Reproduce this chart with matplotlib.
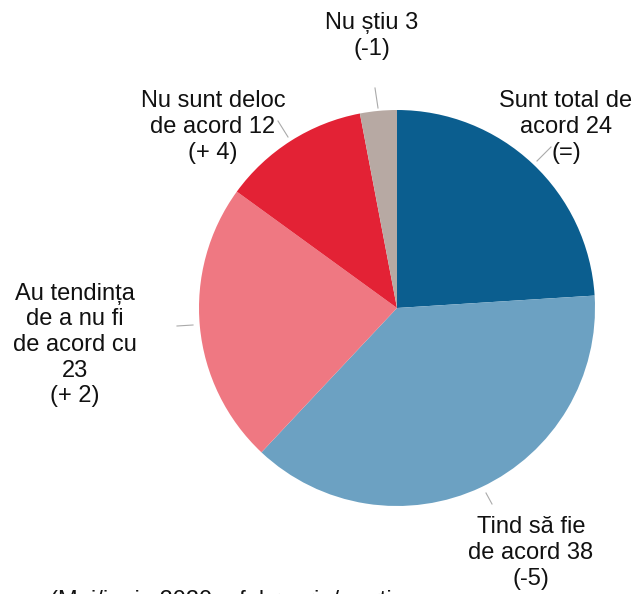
import matplotlib.pyplot as plt

# share of answers, clockwise from 12 o'clock
categories = ["Sunt total de\nacord 24\n(=)",
              "Tind să fie\nde acord 38\n(-5)",
              "Au tendința\nde a nu fi\nde acord cu\n23\n(+ 2)",
              "Nu sunt deloc\nde acord 12\n(+ 4)",
              "Nu știu 3\n(-1)"]
values = [24, 38, 23, 12, 3]
colors = ["#0B5E8F", "#6CA1C2", "#EF7882", "#E32235", "#B7A9A3"]
footnote = "(Mai/iunie 2020 = februarie/martie"

W, H = 635, 594
CX, CY, R = 397, 308, 198


def px(x, y):
    # pixel position -> data units of the pie (radius 1, centre 0,0)
    return (x - CX) / R, (CY - y) / R


# label centres and leader lines, in pixels
label_pos = [(566, 127), (531, 553), (75, 345), (213, 127), (372, 36)]
leaders = [((537, 161), (551, 147)),
           ((486, 493), (492, 504)),
           ((177, 326), (193, 325)),
           ((278, 121), (288, 137)),
           ((375, 88), (378, 108))]

plt.rcParams['font.family'] = ['Liberation Sans', 'DejaVu Sans']

fig = plt.figure(figsize=(W / 100, H / 100), dpi=100)
ax = fig.add_axes([0, 0, 1, 1])
ax.pie(values, colors=colors, startangle=90, counterclock=False,
       radius=1, wedgeprops=dict(linewidth=0))
ax.set_xlim(-CX / R, (W - CX) / R)
ax.set_ylim((CY - H) / R, CY / R)
ax.set_aspect('equal')
ax.axis('off')

for text, (lx, ly), (a, b) in zip(categories, label_pos, leaders):
    ax.text(*px(lx, ly), text, ha='center', va='center', fontsize=17,
            linespacing=1.22, color='#111111')
    (x0, y0), (x1, y1) = px(*a), px(*b)
    ax.plot([x0, x1], [y0, y1], color='#AAAAAA', lw=0.8)

ax.text(*px(50, 601), footnote, ha='left', va='center', fontsize=17,
        color='#111111')

fig.savefig("out.png", dpi=100)
